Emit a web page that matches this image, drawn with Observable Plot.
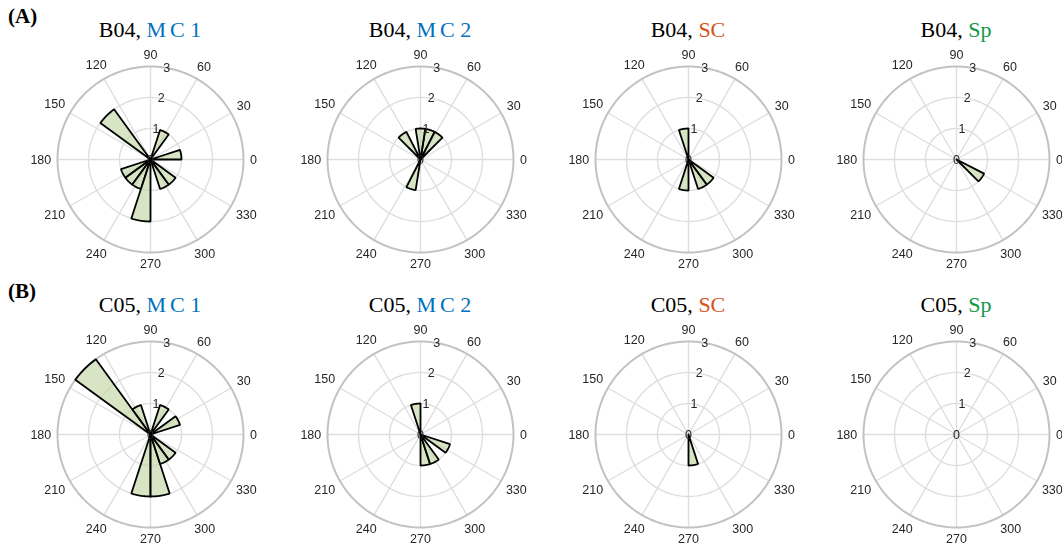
<!DOCTYPE html>
<html><head><meta charset="utf-8">
<script src="https://cdn.jsdelivr.net/npm/d3@7"></script>
<script src="https://cdn.jsdelivr.net/npm/@observablehq/plot@0.6"></script>
<style>
html,body{margin:0;padding:0;background:#fff;overflow:hidden;}
#fig{position:relative;width:1062px;height:549px;overflow:hidden;}
.panel{position:absolute;width:268px;height:230px;}
.panel svg{will-change:transform;}
.panel svg g[aria-label="text"]{opacity:0.995;}
.title{position:absolute;width:268px;text-align:center;font-family:"Liberation Serif","Times New Roman",serif;font-size:22px;line-height:24px;color:#000;white-space:nowrap;}
.rowlab{position:absolute;left:8px;font-family:"Liberation Serif","Times New Roman",serif;font-weight:bold;font-size:21px;line-height:24px;color:#000;}
</style></head>
<body><div id="fig"></div>
<script>
// ---- labels ----
const rowNames = ["B04", "C05"];
const rowLabels = ["(A)", "(B)"];
const groupNames = ["MC 1", "MC 2", "SC", "Sp"];
const groupColors = ["#0072BD", "#0072BD", "#D95319", "#14994a"];
const thetaTicks = [0, 30, 60, 90, 120, 150, 180, 210, 240, 270, 300, 330];
const rTicks = [0, 1, 2, 3];
const rGrid = [1, 2];
const rMax = 3;
const binWidth = 18;

// ---- bin start angles (deg) and counts ----
const b04mc1Start = [0, 54, 126, 198, 216, 234, 252, 288, 306];
const b04mc1Count = [1, 1, 2, 1, 1, 1, 2, 1, 1];
const b04mc2Start = [45, 63, 81, 117, 243];
const b04mc2Count = [1, 1, 1, 1, 1];
const b04scStart = [90, 252, 288, 306];
const b04scCount = [1, 1, 1, 1];
const b04spStart = [315];
const b04spCount = [1];
const c05mc1Start = [18, 54, 108, 126, 252, 270, 288, 306];
const c05mc1Count = [1, 1, 1, 3, 2, 2, 1, 1];
const c05mc2Start = [90, 270, 288, 324];
const c05mc2Count = [1, 1, 1, 1];
const c05scStart = [270];
const c05scCount = [1];
const c05spStart = [];
const c05spCount = [];

const panelData = [
  [[b04mc1Start, b04mc1Count], [b04mc2Start, b04mc2Count], [b04scStart, b04scCount], [b04spStart, b04spCount]],
  [[c05mc1Start, c05mc1Count], [c05mc2Start, c05mc2Count], [c05scStart, c05scCount], [c05spStart, c05spCount]]
];

// ---- layout ----
const PW = 268, PH = 230, UNIT = 31; // px per count unit
const centersX = [150, 420, 688, 956];
const rowCenterY = [159, 434];
const rad = d => d * Math.PI / 180;

function circlePts(r) {
  const pts = [];
  for (let k = 0; k <= 180; k++) { const a = rad(k * 2); pts.push({r, x: r * Math.cos(a), y: r * Math.sin(a)}); }
  return pts;
}

function rose(starts, counts) {
  const wedges = [];
  starts.forEach((s, i) => {
    const r = counts[i];
    wedges.push({id: i, x: 0, y: 0});
    for (let k = 0; k <= 18; k++) {
      const a = rad(s + binWidth * k / 18);
      wedges.push({id: i, x: r * Math.cos(a), y: r * Math.sin(a)});
    }
    wedges.push({id: i, x: 0, y: 0});
  });
  const gridPts = rGrid.flatMap(circlePts);
  const labR = t => {
    const hw = String(t).length * 3.4, hh = 4.6;
    const px = rMax * UNIT + 6.5 + hw * Math.abs(Math.cos(rad(t))) + hh * Math.abs(Math.sin(rad(t)));
    return px / UNIT;
  };
  const xr = PW / 2 / UNIT, yr = PH / 2 / UNIT;
  return Plot.plot({
    width: PW, height: PH, margin: 0,
    x: {domain: [-xr, xr], axis: null},
    y: {domain: [-yr, yr], axis: null},
    style: {background: "transparent", overflow: "visible"},
    marks: [
      Plot.line(gridPts, {x: "x", y: "y", z: "r", stroke: "#dedede", strokeWidth: 1.4}),
      Plot.link(thetaTicks, {x1: 0, y1: 0, x2: t => rMax * Math.cos(rad(t)), y2: t => rMax * Math.sin(rad(t)), stroke: "#dedede", strokeWidth: 1.4}),
      Plot.line(circlePts(rMax), {x: "x", y: "y", stroke: "#c2c2c2", strokeWidth: 2}),
      Plot.line(wedges, {x: "x", y: "y", z: "id", fill: "#bcd49c", fillOpacity: 0.6, stroke: "#000", strokeWidth: 1.8, strokeLinejoin: "miter"}),
      Plot.text(thetaTicks, {x: t => labR(t) * Math.cos(rad(t)), y: t => labR(t) * Math.sin(rad(t)), text: t => String(t), fontSize: 12.5, fill: "#262626", fontFamily: "Liberation Sans, Arial, sans-serif"}),
      Plot.text(rTicks, {x: r => r * Math.cos(rad(80)), y: r => r * Math.sin(rad(80)), text: r => String(r), fontSize: 12.5, fill: "#262626", fontFamily: "Liberation Sans, Arial, sans-serif"})
    ]
  });
}

const fig = document.getElementById("fig");
rowNames.forEach((rn, ri) => {
  const lab = document.createElement("div");
  lab.className = "rowlab";
  lab.style.top = (rowCenterY[ri] - 159 + 4) + "px";
  lab.textContent = rowLabels[ri];
  fig.appendChild(lab);
  groupNames.forEach((gn, gi) => {
    const cx = centersX[gi], cy = rowCenterY[ri];
    const t = document.createElement("div");
    t.className = "title";
    t.style.left = (cx - PW / 2) + "px";
    t.style.top = (cy - 159 + 18) + "px";
    const s1 = document.createElement("span"); s1.textContent = rn + ", ";
    t.appendChild(s1);
    const s2 = document.createElement("span"); s2.style.color = groupColors[gi];
    if (gn.startsWith("MC")) {
      const m = document.createElement("span"); m.textContent = gn.slice(0, 1); m.style.letterSpacing = "4px";
      const rest = document.createElement("span"); rest.textContent = gn.slice(1);
      s2.appendChild(m); s2.appendChild(rest);
    } else {
      s2.textContent = gn;
    }
    t.appendChild(s2);
    fig.appendChild(t);
    const p = document.createElement("div");
    p.className = "panel";
    p.style.left = (cx - PW / 2) + "px";
    p.style.top = (cy - PH / 2) + "px";
    const [st, ct] = panelData[ri][gi];
    p.appendChild(rose(st, ct));
    fig.appendChild(p);
  });
});
</script>
</body></html>
